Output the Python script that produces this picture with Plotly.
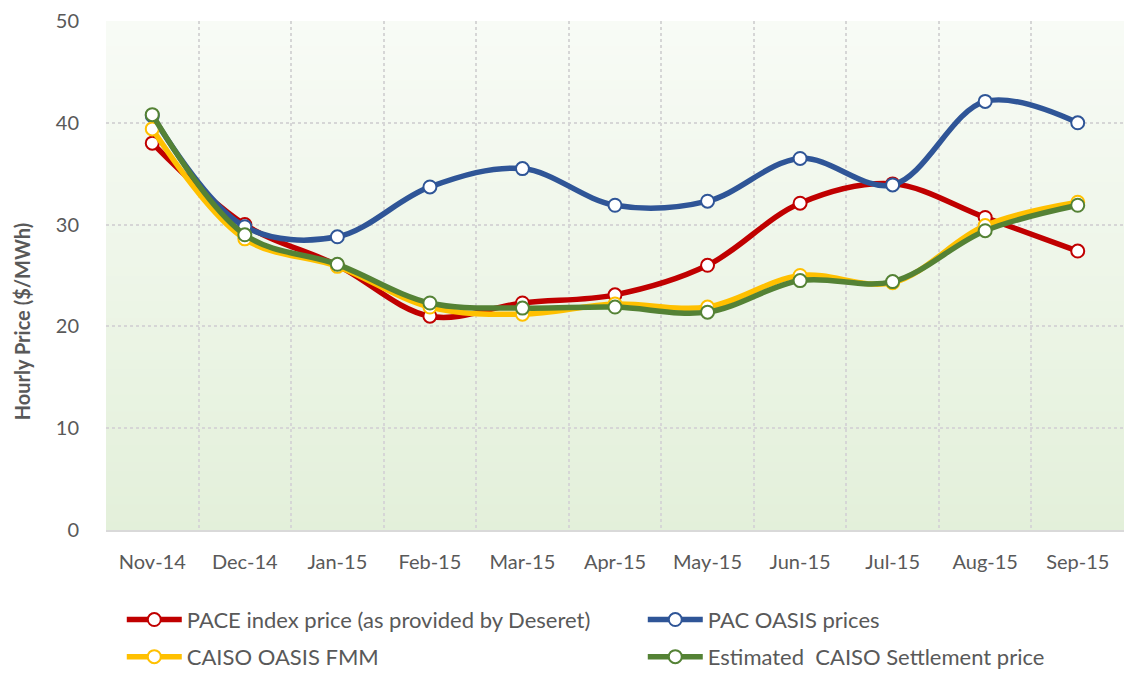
import plotly.graph_objects as go

months = ["Nov-14", "Dec-14", "Jan-15", "Feb-15", "Mar-15", "Apr-15",
          "May-15", "Jun-15", "Jul-15", "Aug-15", "Sep-15"]
pace_index = [38.0, 30.0, 26.0, 21.0, 22.3, 23.1, 26.0, 32.1, 34.0, 30.7, 27.4]
pac_oasis = [40.7, 29.8, 28.8, 33.7, 35.5, 31.9, 32.3, 36.5, 33.9, 42.1, 40.0]
caiso_fmm = [39.4, 28.6, 25.9, 21.9, 21.2, 22.2, 21.9, 25.0, 24.3, 29.9, 32.2]
caiso_settle = [40.8, 29.0, 26.1, 22.3, 21.8, 21.9, 21.4, 24.5, 24.4, 29.4, 31.9]

series = [
    ("PACE index price (as provided by Deseret)", pace_index, "#C00000", "legend", 451),
    ("PAC OASIS prices", pac_oasis, "#2F5597", "legend", 300),
    ("CAISO OASIS FMM", caiso_fmm, "#FFC000", "legend2", 451),
    ("Estimated  CAISO Settlement price", caiso_settle, "#548235", "legend2", 380),
]

FONT = "Lato"
TXT = "#595959"

fig = go.Figure()
for name, vals, col, lg, lw in series:
    fig.add_trace(go.Scatter(
        x=months, y=vals, name=name, mode="lines+markers",
        line=dict(color=col, width=5.5, shape="spline", smoothing=1),
        marker=dict(symbol="circle", size=13, color="white",
                    line=dict(color=col, width=2)),
        legend=lg, legendwidth=lw,
    ))

# vertical gradient background of the plot area
n = 60
top = (248, 251, 246)
bot = (227, 240, 218)
shapes = []
for i in range(n):
    t = (i + 0.5) / n
    c = tuple(round(top[k] + (bot[k] - top[k]) * t) for k in range(3))
    shapes.append(dict(type="rect", xref="x domain", yref="y domain",
                       x0=0, x1=1, y0=1 - i / n, y1=1 - (i + 1) / n - 0.002,
                       fillcolor="rgb(%d,%d,%d)" % c, line=dict(width=0),
                       layer="below"))

leg_common = dict(orientation="h", xanchor="left", yanchor="top",
                  itemwidth=55,
                  font=dict(family=FONT, size=22, color=TXT),
                  bgcolor="rgba(0,0,0,0)")

# the page body adds an 8px offset; figure size/margins compensate for it
fig.update_layout(
    width=1125, height=675,
    margin=dict(l=98, r=9, t=13, b=153, autoexpand=False),
    paper_bgcolor="white", plot_bgcolor="white",
    font=dict(family=FONT, size=20, color=TXT),
    shapes=shapes,
    showlegend=True,
    legend=dict(x=0.0155, y=-0.135, **leg_common),
    legend2=dict(x=0.0155, y=-0.208, **leg_common),
    annotations=[dict(text="<b>Hourly Price ($/MWh)</b>", textangle=-90,
                      xref="paper", yref="paper", x=-0.0825, y=0.41,
                      xanchor="center", yanchor="middle",
                      showarrow=False, font=dict(family=FONT, size=20, color=TXT))],
)

fig.update_xaxes(
    type="category", range=[-0.5, 10.5], tickson="boundaries",
    showgrid=True, gridcolor="#D6D6D6", griddash="dot", gridwidth=1.5,
    showline=True, linecolor="#D9D9D9", linewidth=1.5,
    ticks="outside", ticklen=0, ticklabelstandoff=13,
    tickfont=dict(family=FONT, size=20, color=TXT),
)
fig.update_yaxes(
    range=[0, 50], dtick=10, tick0=0,
    showgrid=True, gridcolor="#D6D6D6", griddash="dot", gridwidth=1.5,
    zeroline=False, showline=False,
    ticks="outside", ticklen=0, ticklabelstandoff=22,
    tickfont=dict(family=FONT, size=20, color=TXT),
)

fig.write_html("out.html")
